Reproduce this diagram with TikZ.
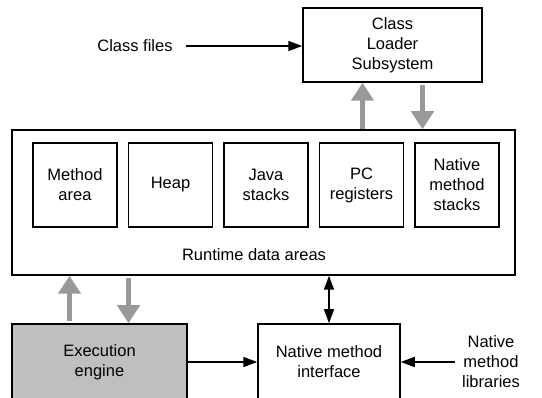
\documentclass[tikz,border=0pt]{standalone}
\usepackage{fontspec}
\setmainfont{Liberation Sans}
\usetikzlibrary{positioning, arrows.meta}

\begin{document}
\begin{tikzpicture}[x=1pt, y=-1pt,
    % styles
    every node/.style={font=\fontsize{16.5}{20}\selectfont},
    unit/.style={rectangle, draw=black, line width=1.5pt, align=center, inner sep=0pt},
    area/.style={rectangle, draw=black, line width=1.5pt, minimum width=84pt, minimum height=84pt, align=center, inner sep=0pt},
    engine/.style={unit, fill=gray!50},
    % arrows
    myarrow/.style={-{Triangle[width=10pt,length=14pt]}, line width=1.5pt, draw=black},
    grayarrow/.style={-{Triangle[width=22pt,length=18pt]}, line width=5pt, draw=black!40}
]
\useasboundingbox (0,0) rectangle (542,398);

% ====================
% class loader
% ====================
\node[unit, minimum width=179pt, minimum height=74pt] (loader) at (392.5,45) {Class\\Loader\\Subsystem};
\node[inner xsep=13pt] (files) at (135,46) {Class files};

\draw[myarrow] (files) -- (files -| loader.west);

% ====================
% runtime data areas
% ====================
\node[unit, minimum width=503pt, minimum height=145pt] (runtime) at (263.5,202.5) {};

\node[area] (method) at (75,185) {Method\\area};
\node[area, right=10pt of method] (heap) {Heap};
\node[area, right=10pt of heap] (stacks) {Java\\stacks};
\node[area, right=10pt of stacks] (pc) {PC\\registers};
\node[area, right=10pt of pc] (native) {Native\\method\\stacks};

\node (rtlabel) at (254,255) {Runtime data areas};

\draw[grayarrow] ([xshift=-30pt]loader.south |- runtime.north) -- ([xshift=-30pt]loader.south);
\draw[grayarrow, shorten <=2pt] ([xshift=30pt]loader.south) -- ([xshift=30pt]loader.south |- runtime.north);

% ====================
% execution engine and native interface
% ====================
\node[engine, minimum width=175pt, minimum height=76pt] (engine) at (99.5,362) {Execution\\engine};
\node[unit, minimum width=142pt, minimum height=76pt] (nmi) at (329,362) {Native method\\interface};
\node[align=center, inner xsep=7pt] (libs) at (491,362) {Native\\method\\libraries};

\draw[grayarrow, shorten <=2pt] ([xshift=-30pt]engine.north) -- ([xshift=-30pt]engine.north |- runtime.south);
\draw[grayarrow, shorten <=2pt] ([xshift=29pt]engine.north |- runtime.south) -- ([xshift=29pt]engine.north);

\draw[myarrow, {Triangle[width=10pt,length=14pt]}-{Triangle[width=10pt,length=14pt]}] (nmi.north) -- (nmi.north |- runtime.south);
\draw[myarrow] (engine) -- (nmi);
\draw[myarrow] (libs) -- (nmi);

\end{tikzpicture}
\end{document}
